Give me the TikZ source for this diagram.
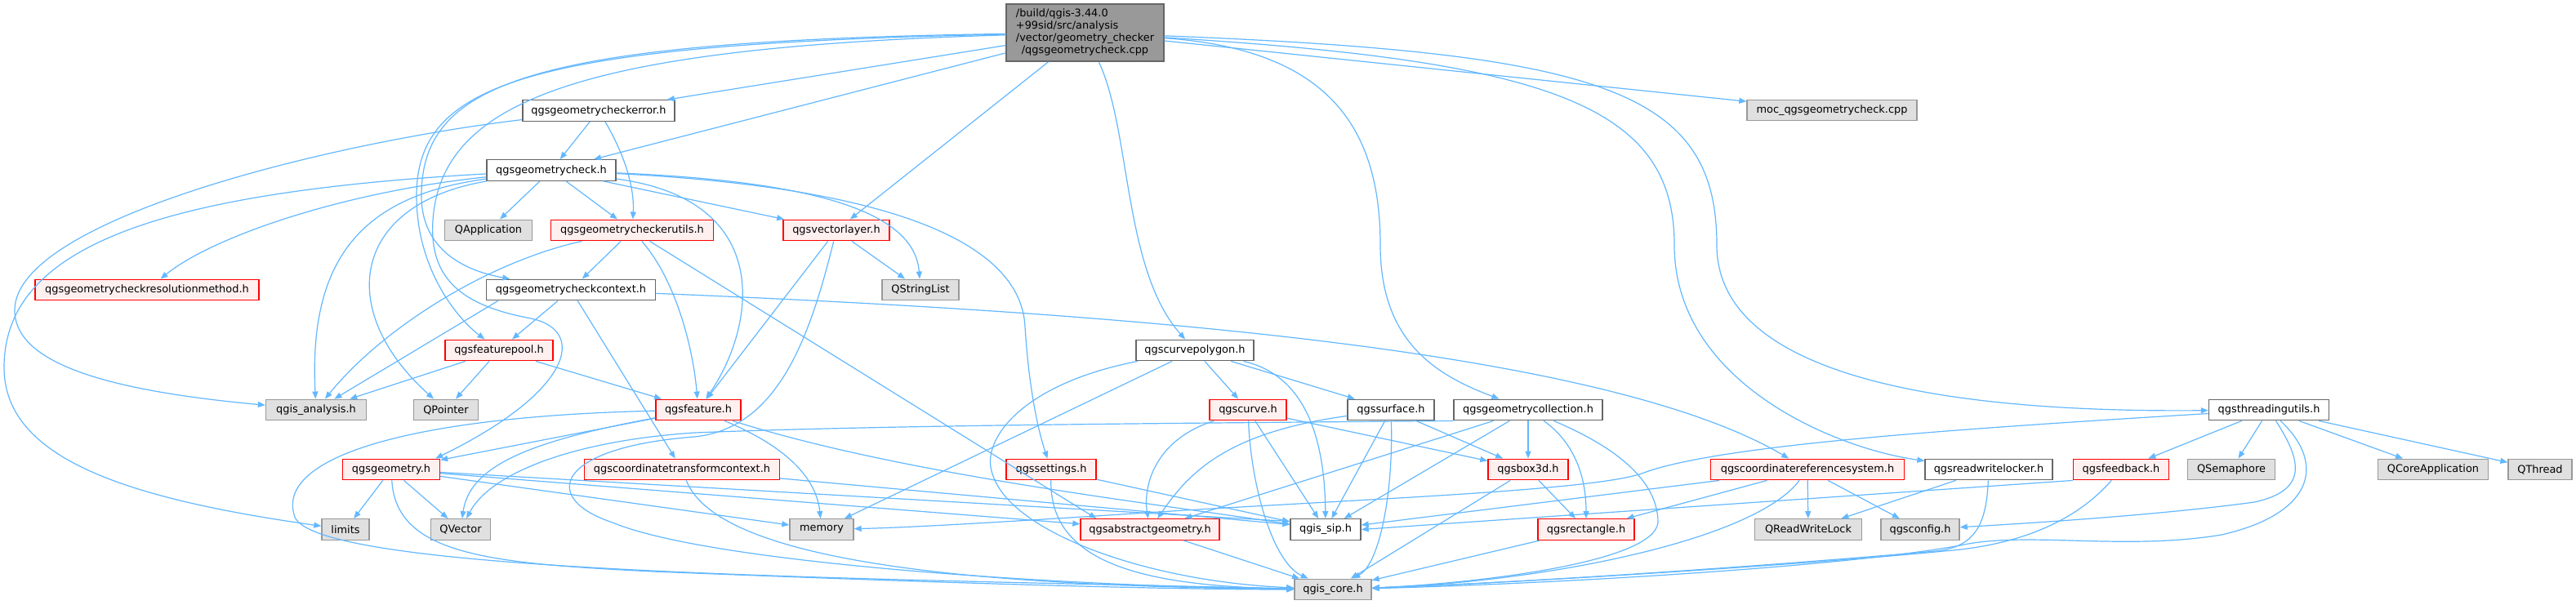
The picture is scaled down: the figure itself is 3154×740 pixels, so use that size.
\documentclass[tikz,border=0pt]{standalone}
\usepackage{fontspec}
\setmainfont{DejaVu Sans}
\usetikzlibrary{arrows.meta}
\definecolor{edgec}{HTML}{63B8FF}
\definecolor{redfill}{HTML}{FFF0F0}
\definecolor{greyfill}{HTML}{E0E0E0}
\definecolor{greyline}{HTML}{999999}
\definecolor{darkline}{HTML}{666666}
\begin{document}
\begin{tikzpicture}[x=1pt,y=-1pt,
  nd/.style={rectangle, line width=1.4pt, minimum height=25.5pt, inner sep=2pt, font=\fontsize{12.9}{15}\selectfont, text=black},
  wn/.style={nd, draw=darkline, fill=white},
  rn/.style={nd, draw=red, fill=redfill},
  gn/.style={nd, draw=greyline, fill=greyfill},
  mn/.style={nd, draw=darkline, fill=greyline},
  e/.style={draw=edgec, line width=1.2pt, -{Triangle[length=9pt,width=7pt]}}]
\fill[white] (0,0) rectangle (3154,740);
\useasboundingbox (0,0) rectangle (3154,740);

% nodes
\node[mn, minimum width=193pt, minimum height=70pt] (M) at (1328.5,40)
  {\begin{tabular}{@{}l@{}}/build/qgis-3.44.0\\+99sid/src/analysis\\/vector/geometry\_checker\\\multicolumn{1}{@{}c@{}}{/qgsgeometrycheck.cpp}\end{tabular}};
\node[wn, minimum width=186pt] (CE) at (733,135.5) {qgsgeometrycheckerror.h};
\node[gn, minimum width=208pt] (MOC) at (2243,135) {moc\_qgsgeometrycheck.cpp};
\node[wn, minimum width=158pt] (GC) at (675,208.5) {qgsgeometrycheck.h};
\node[gn, minimum width=107pt] (QApp) at (598,282) {QApplication};
\node[rn, minimum width=199pt] (CU) at (774,282) {qgsgeometrycheckerutils.h};
\node[rn, minimum width=130pt] (VL) at (1024,282) {qgsvectorlayer.h};
\node[rn, minimum width=274pt] (RM) at (180,355) {qgsgeometrycheckresolutionmethod.h};
\node[wn, minimum width=207pt] (CC) at (699,355) {qgsgeometrycheckcontext.h};
\node[gn, minimum width=94pt] (QSL) at (1127,355) {QStringList};
\node[rn, minimum width=132pt] (FP) at (611,429) {qgsfeaturepool.h};
\node[wn, minimum width=144pt] (CP) at (1463,429) {qgscurvepolygon.h};
\node[gn, minimum width=123pt] (QA) at (387,502) {qgis\_analysis.h};
\node[gn, minimum width=79pt] (QP) at (546,502) {QPointer};
\node[rn, minimum width=104pt] (F) at (855,502) {qgsfeature.h};
\node[rn, minimum width=94pt] (Cu) at (1528,502) {qgscurve.h};
\node[wn, minimum width=106pt] (Su) at (1703,502) {qgssurface.h};
\node[wn, minimum width=182pt] (GCol) at (1871,502) {qgsgeometrycollection.h};
\node[wn, minimum width=147pt] (TU) at (2778,502) {qgsthreadingutils.h};
\node[rn, minimum width=119pt] (G) at (479,575) {qgsgeometry.h};
\node[rn, minimum width=239pt] (CTC) at (835,575) {qgscoordinatetransformcontext.h};
\node[rn, minimum width=110pt] (S) at (1287,575) {qgssettings.h};
\node[rn, minimum width=98pt] (B) at (1871,575) {qgsbox3d.h};
\node[rn, minimum width=237pt] (CRS) at (2213,575) {qgscoordinatereferencesystem.h};
\node[wn, minimum width=156pt] (RWL) at (2435,575) {qgsreadwritelocker.h};
\node[rn, minimum width=117pt] (FB) at (2597,575) {qgsfeedback.h};
\node[gn, minimum width=107pt] (QSem) at (2732,575) {QSemaphore};
\node[gn, minimum width=135pt] (QCA) at (2979,575) {QCoreApplication};
\node[gn, minimum width=78pt] (QT) at (3110,575) {QThread};
\node[gn, minimum width=58pt] (Lim) at (423,648.5) {limits};
\node[gn, minimum width=73pt] (QV) at (564,648.5) {QVector};
\node[gn, minimum width=78pt] (Mem) at (1006,648.5) {memory};
\node[rn, minimum width=170pt] (AG) at (1408,648.5) {qgsabstractgeometry.h};
\node[wn, minimum width=86pt] (SIP) at (1623,648.5) {qgis\_sip.h};
\node[rn, minimum width=118pt] (Rect) at (1942,648.5) {qgsrectangle.h};
\node[gn, minimum width=131pt] (QRWL) at (2214,648.5) {QReadWriteLock};
\node[gn, minimum width=96pt] (Conf) at (2351,648.5) {qgsconfig.h};
\node[gn, minimum width=94pt] (Core) at (1632,722) {qgis\_core.h};

% main file
\draw[e] (M) -- (CE);
\draw[e] (M) -- (GC);
\draw[e] (M) -- (VL);
\draw[e] (M) -- (MOC);
\draw[e] (M) .. controls (1385,160) and (1375,330) .. (CP);
\draw[e] (M) .. controls (1620,60) and (1690,150) .. (1690,300) .. controls (1690,420) and (1760,460) .. (GCol);
\draw[e] (M) .. controls (1900,75) and (2050,130) .. (2050,300) .. controls (2050,470) and (2250,550) .. (RWL);
\draw[e] (M) .. controls (1960,65) and (2102,110) .. (2102,300) .. controls (2102,480) and (2450,505) .. (TU);
\draw[e] (M) .. controls (650,50) and (516,100) .. (516,240) .. controls (516,300) and (560,330) .. (CC);
\draw[e] (M) .. controls (650,54) and (510,100) .. (510,240) .. controls (510,330) and (560,390) .. (FP);
\draw[e] (M) .. controls (720,58) and (540,120) .. (530,270) .. controls (525,345) and (570,375) .. (650,390) .. controls (720,405) and (700,480) .. ([xshift=-6pt]G.north east);

% qgsgeometrycheckerror.h
\draw[e] (CE) -- (GC);
\draw[e] (CE) .. controls (765,190) and (777,230) .. (CU);
\draw[e] (CE) .. controls (400,175) and (18,270) .. (18,380) .. controls (18,450) and (150,480) .. (QA);

% qgsgeometrycheck.h
\draw[e] (GC) -- (QApp);
\draw[e] (GC) -- (CU);
\draw[e] (GC) -- (VL);
\draw[e] (GC) .. controls (1000,222) and (1120,260) .. (QSL);
\draw[e] (GC) .. controls (1100,230) and (1250,300) .. (1255,400) .. controls (1260,480) and (1272,530) .. (S);
\draw[e] (GC) .. controls (950,245) and (925,400) .. (F);
\draw[e] (GC) .. controls (420,235) and (260,290) .. (RM);
\draw[e] (GC) .. controls (440,240) and (378,320) .. (QA);
\draw[e] (GC) .. controls (430,250) and (410,380) .. (QP);
\draw[e] (GC) .. controls (200,235) and (5,300) .. (5,450) .. controls (5,560) and (150,610) .. (Lim);

% qgsgeometrycheckerutils.h
\draw[e] (CU) -- (CC);
\draw[e] (CU) .. controls (825,340) and (848,420) .. (F);
\draw[e] (CU) .. controls (600,320) and (470,400) .. (QA);
\draw[e] (CU) -- ([xshift=20pt]AG.north west);

% qgsvectorlayer.h
\draw[e] (VL) -- (F);
\draw[e] (VL) -- (QSL);
\draw[e] (VL) .. controls (990,420) and (950,525) .. (850,535) .. controls (680,548) and (660,610) .. (750,640) .. controls (870,690) and (1300,718) .. (Core);

% qgsgeometrycheckcontext.h
\draw[e] (CC) -- (FP);
\draw[e] ([xshift=15pt]CC.south west) -- (QA);
\draw[e] (CC) -- (CTC);
\draw[e] (CC) .. controls (1300,380) and (1950,420) .. (CRS);

% qgsfeaturepool.h
\draw[e] (FP) -- (QA);
\draw[e] (FP) -- (QP);
\draw[e] (FP) -- (F);

% qgsfeature.h
\draw[e] (F) -- (G);
\draw[e] (F) .. controls (650,540) and (575,570) .. (QV);
\draw[e] (F) .. controls (970,550) and (1000,590) .. (Mem);
\draw[e] (F) .. controls (1100,580) and (1400,615) .. (SIP);
\draw[e] (F) .. controls (500,510) and (340,560) .. (360,630) .. controls (370,700) and (1000,708) .. (Core);

% qgsgeometry.h
\draw[e] (G) -- (Lim);
\draw[e] (G) -- (QV);
\draw[e] (G) -- (Mem);
\draw[e] (G) -- (AG);
\draw[e] (G) -- ([yshift=10pt]SIP.west);
\draw[e] (G) .. controls (485,680) and (600,690) .. (800,700) .. controls (1100,712) and (1400,722) .. (Core);

% qgscoordinatetransformcontext.h
\draw[e] (CTC) -- ([yshift=6pt]SIP.west);
\draw[e] (CTC) .. controls (880,690) and (1200,718) .. (Core);

% qgssettings.h
\draw[e] (S) -- (SIP);
\draw[e] (S) .. controls (1285,690) and (1400,718) .. (Core);

% qgscurvepolygon.h
\draw[e] (CP) -- (Cu);
\draw[e] (CP) -- (Su);
\draw[e] (CP) .. controls (1600,460) and (1622,540) .. (SIP);
\draw[e] (CP) .. controls (1250,470) and (1200,540) .. (1215,580) .. controls (1235,650) and (1400,712) .. (Core);
\draw[e] (CP) -- (Mem);

% qgscurve.h
\draw[e] (Cu) .. controls (1410,540) and (1400,600) .. (AG);
\draw[e] (Cu) -- (SIP);
\draw[e] (Cu) .. controls (1532,600) and (1560,690) .. (Core);
\draw[e] (Cu) -- (B);

% qgssurface.h
\draw[e] (Su) .. controls (1500,530) and (1455,580) .. (AG);
\draw[e] (Su) -- (SIP);
\draw[e] (Su) .. controls (1706,600) and (1690,690) .. (Core);
\draw[e] (Su) -- (B);

% qgsgeometrycollection.h
\draw[e] (GCol) -- (B);
\draw[e] (GCol) .. controls (1925,540) and (1942,580) .. (Rect);
\draw[e] (GCol) -- (SIP);
\draw[e] (GCol) .. controls (1960,540) and (2030,580) .. (2030,640) .. controls (2025,690) and (1800,715) .. (Core);
\draw[e] (GCol) -- (AG);
\draw[e] (GCol.south west) .. controls (1500,518) and (1100,520) .. (850,530) .. controls (700,540) and (600,580) .. (QV);

% qgsbox3d.h, qgsrectangle.h, qgsabstractgeometry.h
\draw[e] (B) -- (Rect);
\draw[e] (B) -- (Core);
\draw[e] (Rect) -- (Core);
\draw[e] (AG) -- (Core);

% qgscoordinatereferencesystem.h
\draw[e] (CRS) -- (QRWL);
\draw[e] (CRS) -- (Conf);
\draw[e] (CRS) -- (Rect);
\draw[e] (CRS) -- (SIP);
\draw[e] (CRS) .. controls (2150,660) and (1900,712) .. (Core);

% qgsreadwritelocker.h
\draw[e] (RWL) -- (QRWL);
\draw[e] (RWL) .. controls (2432,640) and (2420,670) .. (2370,675) .. controls (2200,690) and (1900,712) .. (Core);

% qgsfeedback.h
\draw[e] (FB.south west) -- (SIP.east);
\draw[e] (FB) .. controls (2540,640) and (2470,668) .. (2380,675) .. controls (2250,688) and (1900,712) .. (Core);

% qgsthreadingutils.h
\draw[e] (TU) -- (FB);
\draw[e] (TU) -- (QSem);
\draw[e] (TU) -- (QCA);
\draw[e] (TU) -- (QT);
\draw[e] (TU) .. controls (2815,560) and (2830,600) .. (2760,615) .. controls (2650,630) and (2500,640) .. (Conf);
\draw[e] (TU) .. controls (2850,570) and (2830,630) .. (2720,655) .. controls (2600,675) and (2480,650) .. (2400,668) .. controls (2250,695) and (1900,715) .. (Core);
\draw[e] (TU) .. controls (2400,525) and (2100,545) .. (2010,580) .. controls (1950,600) and (1700,610) .. (1450,625) .. controls (1250,638) and (1120,646) .. (Mem);
\end{tikzpicture}
\end{document}
